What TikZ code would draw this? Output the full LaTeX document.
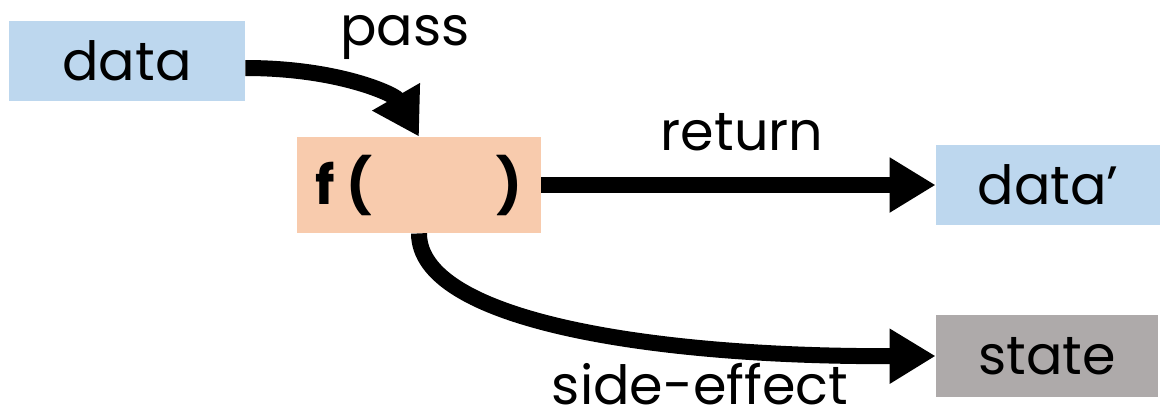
\documentclass[tikz,border=0pt]{standalone}
\usepackage{fontspec}
\setmainfont{Poppins}
\usepackage{xcolor}
\usepackage{tikz}
\usetikzlibrary{arrows.meta}
\definecolor{valblue}{HTML}{BDD7EE}
\definecolor{fnorange}{HTML}{F8CBAD}
\definecolor{stategray}{HTML}{AEAAAA}
\tikzset{
  box/.style={inner sep=0pt, font=\fontsize{27}{32}\selectfont},
  val/.style={box, fill=valblue, minimum width=112pt, minimum height=40pt},
  fn/.style={box, fill=fnorange, minimum width=122pt, minimum height=48pt},
  st/.style={box, fill=stategray, minimum width=111pt, minimum height=41pt},
  flow/.style={draw=black, line width=8pt, -{Triangle[length=23pt,width=26pt]}},
  lab/.style={font=\fontsize{27}{32}\selectfont, anchor=base, inner sep=0pt},
}

\begin{document}
\begin{tikzpicture}[x=0.5pt, y=-0.5pt]
  \useasboundingbox (0,0) rectangle (1160,418);

  \node[val, minimum width=118pt] (data) at (127,61) {data};
  \node[fn]  (func)   at (419,185)  {\bfseries f (\hspace{62pt})};
  \node[val] (result) at (1048,185) {data’};
  \node[st]  (state)  at (1047,356) {state};

  % passing in, returning, and the side path down to the state
  \draw[flow] ([yshift=-3.5pt]data.east) .. controls (340,68) and (395,95) .. (func.north);
  \draw[flow] (func.east) -- (result.west);
  \draw[flow] (func.south) .. controls (419,320) and (650,357) .. (state.west);

  \node[lab] (passlab)   at (405,45)  {pass};
  \node[lab] (returnlab) at (742,150) {return};
  \node[lab] (sidelab)   at (700,404) {side-effect};
\end{tikzpicture}
\end{document}
